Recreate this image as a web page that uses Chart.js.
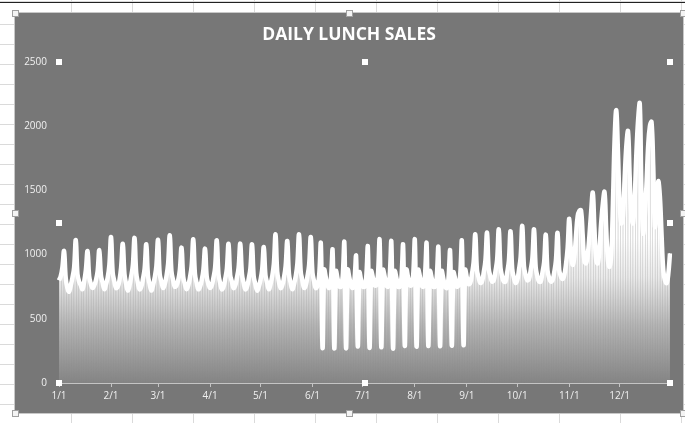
<!DOCTYPE html>
<html>
<head>
<meta charset="utf-8">
<script src="https://cdn.jsdelivr.net/npm/chart.js@4.4.1/dist/chart.umd.min.js"></script>
<style>
  html, body { margin: 0; padding: 0; }
  body {
    width: 685px; height: 423px; overflow: hidden; position: relative;
    background-color: #fff;
    background-image:
      repeating-linear-gradient(to right, transparent 0, transparent 60px, #dadada 60px, #dadada 61px),
      repeating-linear-gradient(to bottom, transparent 0, transparent 19px, #dadada 19px, #dadada 20px);
    background-position: 11px 5px;
  }
  #topline { position: absolute; left: 0; top: 2px; width: 685px; height: 1px; background: #222; }
  #wrap {
    position: absolute; left: 15px; top: 13px; width: 668px; height: 400px;
    background: #777777; box-shadow: 0 0 0 1px #c8c8c8;
  }
  .h { position: absolute; width: 5px; height: 5px; background: #f4f4f4; border: 1px solid #a0a0a0; }
</style>
</head>
<body>
<div id="topline"></div>
<div id="wrap"><canvas id="c" width="668" height="400"></canvas></div>
<div class="h" style="left:12px;top:10px"></div>
<div class="h" style="left:346px;top:10px"></div>
<div class="h" style="left:680px;top:10px"></div>
<div class="h" style="left:12px;top:210px"></div>
<div class="h" style="left:680px;top:210px"></div>
<div class="h" style="left:12px;top:410px"></div>
<div class="h" style="left:346px;top:410px"></div>
<div class="h" style="left:680px;top:410px"></div>
<script>
// daily lunch sales, one array per month
const jan = [800,830,900,1028,820,740,711, 760,820,900,1114,850,789,760, 730,790,880,1028,830,770,740, 760,800,870,1035,840,780,730, 770,820,920];
const feb = [1137,860,790,740, 750,800,900,1085,850,770,720, 760,830,920,1130,860,780,730, 750,810,890,1080,840,770,720, 760,820,910];
const mar = [1115,850,790,740, 770,830,930,1150,870,800,750, 760,800,880,1054,830,770,730, 760,820,910,1119,850,780,730, 750,800,880,1046,830,770];
const apr = [740, 760,820,900,1112,850,780,730, 750,810,890,1085,840,790,740, 760,820,900,1085,850,780,730, 750,810,890,1080,830,770,720, 750];
const may = [800,880,1059,840,780,730, 770,830,930,1158,870,790,740, 760,820,910,1106,850,780,730, 770,830,930,1158,870,800,740, 760,830,920,1137];
const jun = [860,790,740, 760,840,1085,273,880,820,760, 740,810,1034,270,870,810,750, 750,830,1093,272,880,820,760, 740,800,987,285,860,800];
const jul = [750, 750,820,1059,275,870,820,760, 760,840,1112,280,880,830,760, 750,830,1098,270,870,820,750, 750,820,1073,290,880,820,760, 760,840];
const aug = [1112,285,880,830,760, 750,830,1085,290,870,820,750, 750,820,1054,288,870,810,750, 740,810,1028,292,860,810,750, 760,840,1104,296,880];
const sep = [820,770, 780,850,940,1158,880,820,780, 790,860,950,1171,890,830,790, 800,870,960,1197,900,830,790, 790,860,950,1182,890,820,780];
const oct = [800,880,980,1223,910,840,800, 810,880,970,1197,900,830,790, 790,860,940,1155,880,820,790, 800,860,950,1169,880,830,810, 840,920,1050];
const nov = [1280,1020,920,980, 1150,1300,1340,1345,1150,950,932, 1000,1150,1330,1482,1200,960,932, 1050,1250,1400,1488,1200,960,906, 1000,1400,1900,2124,1800];
const dec = [1400,1244, 1300,1600,1850,1961,1600,1300,1244, 1450,1800,2050,2176,1500,1166,1300, 1550,1850,2000,2033,1700,1218,1300, 1570,1450,1150,880,800,777,850, 1010];

const months = [jan, feb, mar, apr, may, jun, jul, aug, sep, oct, nov, dec];
const yTicks = [0, 500, 1000, 1500, 2000, 2500];

// one "M/D" label per day
const labels = [];
const sales = [];
months.forEach((m, mi) => {
  m.forEach((v, di) => {
    labels.push((mi + 1) + "/" + (di + 1));
    sales.push(v);
  });
});

const tickFont = { family: "Open Sans", size: 10 };
const axisGray = "#c4c4c4";

// small white squares on the plot area corners, like the selected chart
const handles = {
  id: "handles",
  afterDraw(chart) {
    const a = chart.chartArea;
    const c = chart.ctx;
    const xs = [a.left, (a.left + a.right) / 2, a.right];
    const ys = [a.top, (a.top + a.bottom) / 2, a.bottom];
    c.save();
    c.fillStyle = "#ffffff";
    xs.forEach((x, i) => ys.forEach((y, j) => {
      if (i === 1 && j === 1) return;
      c.fillRect(Math.round(x) - 3, Math.round(y) - 3, 6, 6);
    }));
    c.restore();
  }
};

new Chart(document.getElementById("c").getContext("2d"), {
  type: "bar",
  data: {
    labels: labels,
    datasets: [
      {
        type: "line",
        data: sales,
        borderColor: "#ffffff",
        borderWidth: 4.5,
        tension: 0.4,
        pointRadius: 0,
        fill: false,
        order: 0
      },
      {
        type: "bar",
        data: sales,
        barThickness: 1,
        borderWidth: 0,
        order: 1,
        backgroundColor: function(context) {
          const { ctx, chartArea } = context.chart;
          if (!chartArea) return "rgba(255,255,255,0.6)";
          const g = ctx.createLinearGradient(0, chartArea.bottom, 0, chartArea.top);
          g.addColorStop(0, "rgba(255,255,255,0.1)");
          g.addColorStop(0.18, "rgba(255,255,255,0.45)");
          g.addColorStop(0.33, "rgba(255,255,255,0.85)");
          g.addColorStop(0.45, "rgba(255,255,255,1)");
          g.addColorStop(1, "rgba(255,255,255,1)");
          return g;
        }
      }
    ]
  },
  options: {
    responsive: false,
    animation: false,
    devicePixelRatio: 1,
    layout: { padding: 0 },
    plugins: {
      legend: { display: false },
      tooltip: { enabled: false },
      title: {
        display: true,
        text: "DAILY LUNCH SALES",
        color: "#ffffff",
        font: { family: "Open Sans", size: 17.5, weight: "bold" },
        padding: { top: 12, bottom: 16 }
      }
    },
    scales: {
      x: {
        offset: false,
        grid: {
          offset: false,
          display: true,
          drawOnChartArea: false,
          drawTicks: true,
          tickLength: 4,
          color: ctx => (labels[ctx.index] || "").endsWith("/1") ? axisGray : "rgba(0,0,0,0)"
        },
        border: { display: true, color: axisGray, width: 1 },
        ticks: {
          autoSkip: false,
          maxRotation: 0,
          minRotation: 0,
          padding: 3,
          color: "#f0f0f0",
          font: tickFont,
          callback: (v, i) => labels[i].endsWith("/1") ? labels[i] : ""
        },
        afterFit: s => { s.height = 30; }
      },
      y: {
        min: 0,
        max: 2500,
        grid: { display: false, drawTicks: false },
        border: { display: false },
        afterBuildTicks: s => { s.ticks = yTicks.map(v => ({ value: v })); },
        ticks: { padding: 12, color: "#f0f0f0", font: tickFont, callback: v => String(v) },
        afterFit: s => { s.width = 44; }
      },
      // empty right-hand strip so the title stays centred on the whole chart
      yRight: {
        position: "right",
        display: true,
        grid: { display: false, drawTicks: false },
        border: { display: false },
        ticks: { display: false },
        afterFit: s => { s.width = 13; }
      }
    }
  },
  plugins: [handles]
});
</script>
</body>
</html>
